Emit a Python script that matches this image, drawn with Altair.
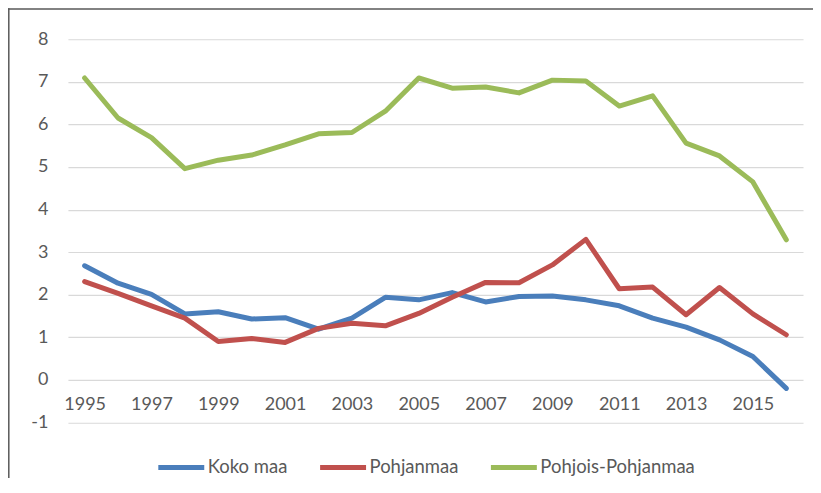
import altair as alt
import pandas as pd

years = list(range(1995, 2017))
koko_maa = [2.68, 2.27, 2.01, 1.55, 1.60, 1.43, 1.46, 1.19, 1.45, 1.94, 1.88,
            2.05, 1.83, 1.96, 1.97, 1.88, 1.74, 1.45, 1.24, 0.94, 0.55, -0.20]
pohjanmaa = [2.31, 2.03, 1.74, 1.45, 0.90, 0.97, 0.88, 1.21, 1.33, 1.27, 1.56,
             1.94, 2.29, 2.28, 2.70, 3.30, 2.14, 2.18, 1.53, 2.17, 1.55, 1.06]
pohjois_pohjanmaa = [7.09, 6.15, 5.69, 4.96, 5.16, 5.28, 5.52, 5.78, 5.81, 6.31, 7.09,
                     6.85, 6.88, 6.74, 7.04, 7.02, 6.43, 6.67, 5.56, 5.26, 4.65, 3.29]
series_names = ["Koko maa", "Pohjanmaa", "Pohjois-Pohjanmaa"]
series_colors = ["#4A7EBB", "#C0504D", "#9BBB59"]
x_tick_years = list(range(1995, 2016, 2))
y_ticks = list(range(-1, 9))

rows = []
for name, vals in zip(series_names, [koko_maa, pohjanmaa, pohjois_pohjanmaa]):
    for yr, v in zip(years, vals):
        rows.append({"Vuosi": yr, "Arvo": v, "Sarja": name})
df = pd.DataFrame(rows)

FONT = "Lato"
W = 736
H = 383.7
unit = H / 9.0

lines = alt.Chart(df).mark_line(strokeWidth=5, strokeCap="round", strokeJoin="round").encode(
    x=alt.X("Vuosi:Q",
            scale=alt.Scale(domain=[1994.5, 2016.5], nice=False, zero=False),
            axis=alt.Axis(values=x_tick_years, format="d", title=None, grid=False,
                          domain=False, ticks=False, labelPadding=16, offset=-unit,
                          labelFont=FONT, labelFontSize=18, labelColor="#595959")),
    y=alt.Y("Arvo:Q",
            scale=alt.Scale(domain=[-1, 8], nice=False, zero=False),
            axis=alt.Axis(values=y_ticks, title=None, grid=True, gridColor="#D9D9D9",
                          gridWidth=1.2, domain=False, ticks=False, labelPadding=20,
                          labelExpr="toString(datum.value)",
                          labelFont=FONT, labelFontSize=18, labelColor="#595959")),
    color=alt.Color("Sarja:N",
                    scale=alt.Scale(domain=series_names, range=series_colors),
                    legend=alt.Legend(title=None, orient="none", direction="horizontal",
                                      legendX=88, legendY=403, symbolType="stroke",
                                      symbolSize=2116, symbolStrokeWidth=5,
                                      labelFont=FONT, labelFontSize=18.5, labelColor="#595959",
                                      labelOffset=1, columnPadding=22, padding=0)),
    order=alt.Order("Vuosi:Q"),
)

frame_data = alt.Data(values=[{"k": 1}])
frame_left = alt.Chart(frame_data).mark_rule(stroke="#595959", strokeWidth=1.5).encode(
    x=alt.value(-59.2), y=alt.value(-31), y2=alt.value(2000)
)
frame_top = alt.Chart(frame_data).mark_rule(stroke="#595959", strokeWidth=1.5).encode(
    x=alt.value(-60), x2=alt.value(2000), y=alt.value(-30.2)
)

chart = alt.layer(frame_left, frame_top, lines).properties(
    width=W, height=H,
    autosize=alt.AutoSizeParams(type="none"),
    padding={"left": 60, "top": 31, "right": 10, "bottom": 55},
    background="white",
).configure_view(stroke=None)

chart.save("out.html", embed_options={"renderer": "svg", "actions": False})
